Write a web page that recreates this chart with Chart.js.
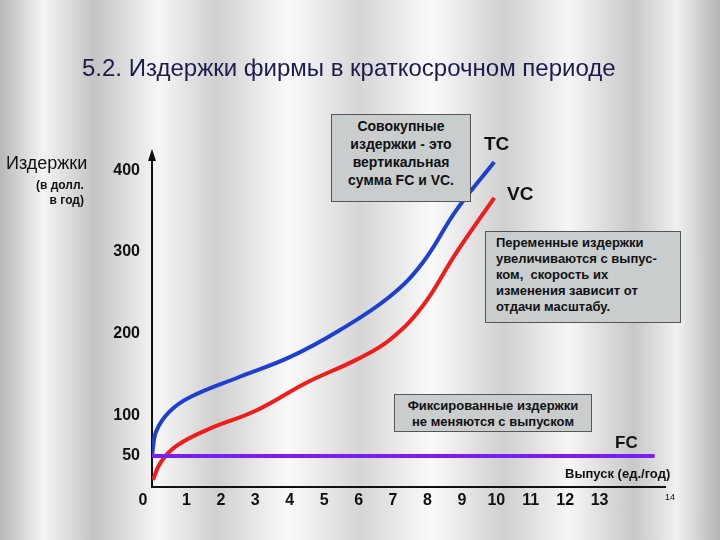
<!DOCTYPE html>
<html>
<head>
<meta charset="utf-8">
<script src="https://cdn.jsdelivr.net/npm/chart.js@4"></script>
<style>
  body { margin: 0; }
  #wrap {
    position: relative; width: 720px; height: 540px; overflow: hidden;
    background: linear-gradient(90deg, #b8b8b8 0%, #f4f4f4 6%, #c4c4c4 13%, #f6f6f6 22%, #d0d0d0 30%, #fafafa 40%, #d6d6d6 50%, #fafafa 60%, #d0d0d0 70%, #f6f6f6 79%, #c8c8c8 88%, #f0f0f0 94%, #b4b4b4 100%);
    font-family: Arial, "Liberation Sans", sans-serif;
  }
  .box {
    position: absolute; background: #c9cdcd; border: 1px solid #555;
    font-weight: bold; font-size: 13px; line-height: 16px; color: #111; text-align: center;
  }
  .t { position: absolute; color: #111; }
</style>
</head>
<body>
<div id="wrap">
  <canvas id="c" width="720" height="540"></canvas>
  <div class="t" style="left:82px;top:54px;font-size:24px;color:#1c1c4c;">5.2. Издержки фирмы в краткосрочном периоде</div>
  <div class="t" style="left:6px;top:153px;font-size:18px;">Издержки</div>
  <div class="t" style="left:36px;top:178px;font-size:12px;font-weight:bold;text-align:right;line-height:15px;">(в долл.<br>&nbsp;&nbsp;&nbsp;&nbsp;в год)</div>
  <div class="box" style="left:331px;top:114px;width:138px;height:84px;font-size:14px;line-height:18px;padding-top:2px;">Совокупные<br>издержки - это<br>вертикальная<br>сумма FC и VC.</div>
  <div class="box" style="left:485px;top:231px;width:196px;height:92px;text-align:left;padding:3px 0 0 10px;box-sizing:border-box;">Переменные издержки<br>увеличиваются с выпус-<br>ком,&nbsp; скорость их<br>изменения зависит от<br>отдачи масштабу.</div>
  <div class="box" style="left:394px;top:394px;width:198px;height:38px;padding-top:3px;box-sizing:border-box;">Фиксированные издержки<br>не меняются с выпуском</div>
  <div class="t" style="left:484px;top:133px;font-size:19px;font-weight:bold;">TC</div>
  <div class="t" style="left:507px;top:183px;font-size:19px;font-weight:bold;">VC</div>
  <div class="t" style="left:615px;top:433px;font-size:17px;font-weight:bold;">FC</div>
  <div class="t" style="left:565px;top:466px;font-size:13px;font-weight:bold;">Выпуск (ед./год)</div>
  <div class="t" style="left:665px;top:492px;font-size:9px;">14</div>
</div>
<script>
const tcX = [0, 0.12, 0.5, 1.1, 2.55, 4.0, 5.45, 6.9, 7.85, 8.84, 9.94];
const tcY = [51, 80, 104, 122, 147, 171, 204, 245, 286, 351, 410];
const vcX = [0.03, 0.25, 0.7, 1.6, 3.04, 4.5, 5.94, 6.9, 7.85, 8.84, 9.94];
const vcY = [21, 42, 62, 82, 106, 140, 168, 192, 233, 299, 366];
const fcX = [0, 14.6];
const fcY = [50, 50];
const yTicks = [50, 100, 200, 300, 400];
const xTicks = [0, 1, 2, 3, 4, 5, 6, 7, 8, 9, 10, 11, 12, 13];

const pts = (xs, ys) => xs.map((x, i) => ({ x: x, y: ys[i] }));

const labelsPlugin = {
  id: 'axisLabels',
  afterDraw(chart) {
    const ctx = chart.ctx, xs = chart.scales.x, ys = chart.scales.y;
    ctx.save();
    ctx.fillStyle = '#111';
    ctx.font = 'bold 16px Arial';
    ctx.textAlign = 'right';
    ctx.textBaseline = 'middle';
    yTicks.forEach(v => ctx.fillText(String(v), 140, ys.getPixelForValue(v)));
    ctx.textAlign = 'center';
    ctx.textBaseline = 'top';
    xTicks.forEach(v => ctx.fillText(String(v), xs.getPixelForValue(v) - (v === 0 ? 9 : 0), 493));
    // y axis arrow
    const x0 = xs.left;
    ctx.beginPath();
    ctx.moveTo(x0, ys.top - 4);
    ctx.lineTo(x0 - 4, ys.top + 8);
    ctx.lineTo(x0 + 4, ys.top + 8);
    ctx.closePath();
    ctx.fill();
    ctx.restore();
  }
};

new Chart(document.getElementById('c'), {
  type: 'line',
  plugins: [labelsPlugin],
  data: {
    datasets: [
      { data: pts(fcX, fcY), borderColor: '#7a1ff0', borderWidth: 4, pointRadius: 0, tension: 0 },
      { data: pts(vcX, vcY), borderColor: '#f01c1c', borderWidth: 4, pointRadius: 0, tension: 0.4 },
      { data: pts(tcX, tcY), borderColor: '#1f3fd0', borderWidth: 4, pointRadius: 0, tension: 0.4 }
    ]
  },
  options: {
    responsive: false,
    animation: false,
    layout: { padding: { left: 152, right: 55, top: 153, bottom: 53 } },
    plugins: { legend: { display: false }, tooltip: { enabled: false } },
    scales: {
      x: {
        type: 'linear', min: 0, max: 14.9,
        ticks: { display: false },
        grid: { display: false, drawTicks: false },
        border: { color: '#111', width: 2 }
      },
      y: {
        min: 12, max: 421,
        ticks: { display: false },
        grid: { display: false, drawTicks: false },
        border: { color: '#111', width: 2 }
      }
    }
  }
});
</script>
</body>
</html>
